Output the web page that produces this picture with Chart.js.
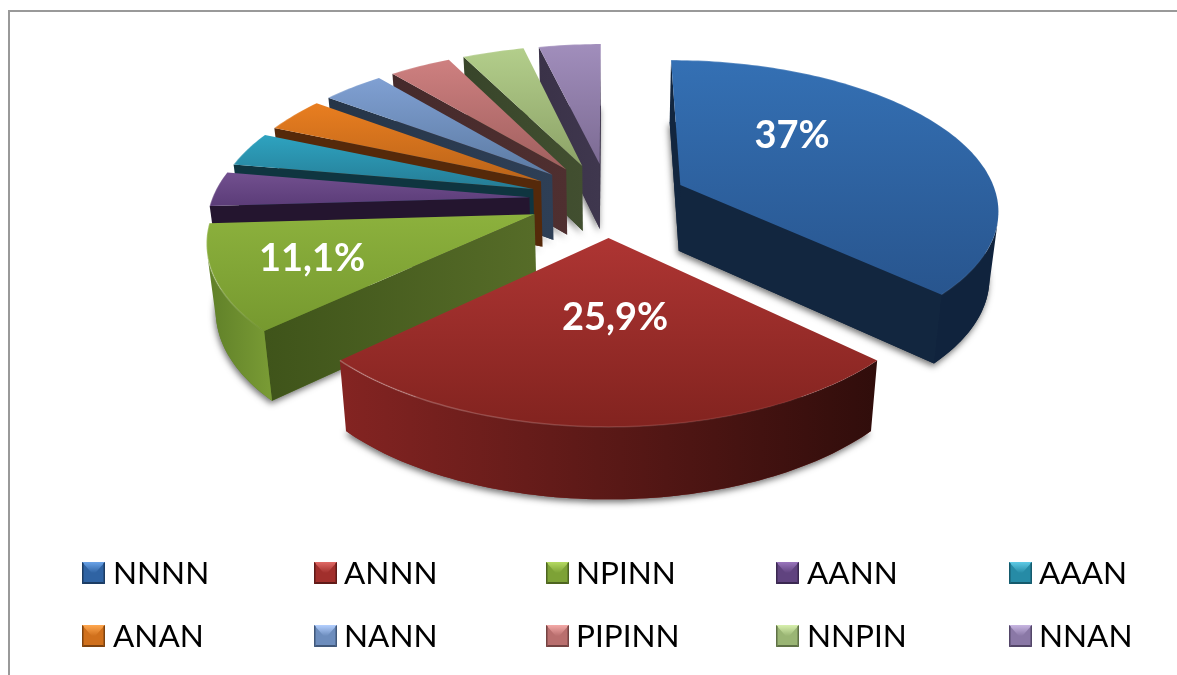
<!DOCTYPE html>
<html>
<head>
<meta charset="utf-8">
<style>html,body{margin:0;padding:0;background:#fff;overflow:hidden}canvas{display:block}</style>
<script src="https://cdn.jsdelivr.net/npm/chart.js@4"></script>
</head>
<body>
<canvas id="c" width="1177" height="675"></canvas>
<script>
const categories = ['NNNN','ANNN','NPINN','AANN','AAAN','ANAN','NANN','PIPINN','NNPIN','NNAN'];
const values = [10,7,3,1,1,1,1,1,1,1];
const explosion = [25,25,25,25,25,25,25,25,25,25];
const valueLabels = ['37%','25,9%','11,1%','','','','','','',''];
const topLight = ['#3470b4','#ae3533','#8cb13d','#72508f','#2ea3c0','#e97e20','#80a0d3','#ce8080','#b3ce8b','#a18ebc'];
const topDark  = ['#28558e','#82231f','#76992f','#5b3c78','#257c95','#bb6419','#5c7ba3','#a05f5e','#8ca267','#7c6b93'];
const wallA = ['#10233d','#842422','#5f7f28','#24152f','#0f3540','#55290a','#2a3a50','#4f2f30','#3e4a2d','#3c344a'];
const wallB = ['#10233d','#300d0b','#7a9c35','#24152f','#0f3540','#55290a','#2a3a50','#4f2f30','#3e4a2d','#3c344a'];
const sideA = ['#12263f','#5a1614','#3f541a','#24152f','#0f3540','#55290a','#263548','#452a2b','#38452a','#3a3248'];
const sideB = ['#12263f','#5a1614','#566c28','#24152f','#0f3540','#55290a','#2e3f56','#4f2f30','#424f30','#3f374e'];
const swatchLight = ['#6aa3e8','#e06a66','#b5da62','#9a76bd','#5fcbe6','#ffa850','#b4d0ff','#f4aaa8','#d8f0ae','#c8b6e2'];
const swatchBase  = ['#2f63a3','#a12f2c','#7da236','#60437f','#268ba6','#d0701c','#6d8dbd','#b96f6e','#9ab574','#8a78a6'];
const swatchDark  = ['#1c3c63','#5f1a18','#4d6420','#3a2850','#155a6c','#7e430f','#41587a','#744342','#5f7146','#534668'];

const view = {cx:608.5, cy:199.5, R:317.5, A:147.8, p:0.15, squeeze:0.977};
const labelAt = [[792,136],[615,318],[312,259]];
const legendCols = [[82,113],[314,344],[546,576],[776,807],[1009,1039]];
const legendRows = [573,636];

function proj(X, D){
  const s = 1/(1 - view.p*D);
  return {x:view.cx + view.R*X*s, y:view.cy + view.A*D*s, s};
}
function drop(P){
  return {x:view.cx + (P.x-view.cx)*view.squeeze, y:P.y + 38 + 28*P.s};
}
function path(ctx, pts){
  ctx.beginPath();
  pts.forEach((q,i)=> i ? ctx.lineTo(q.x,q.y) : ctx.moveTo(q.x,q.y));
  ctx.closePath();
}
function area(pts){
  let a=0;
  for(let i=0;i<pts.length;i++){const u=pts[i],v=pts[(i+1)%pts.length];a+=u.x*v.y-v.x*u.y;}
  return a/2;
}
function hGrad(ctx, pts, c0, c1){
  const xs=pts.map(q=>q.x), g=ctx.createLinearGradient(Math.min(...xs),0,Math.max(...xs)+0.01,0);
  g.addColorStop(0,c0); g.addColorStop(1,c1); return g;
}
function drawSlice(ctx, arc, i){
  const t0=arc.startAngle, t1=arc.endAngle, mid=(t0+t1)/2;
  const o=(arc.options.offset||0)/100, ox=o*Math.cos(mid), oy=o*Math.sin(mid);
  const rim=[], n=Math.max(6,Math.ceil((t1-t0)/0.02));
  for(let k=0;k<=n;k++){
    const t=t0+(t1-t0)*k/n;
    rim.push(proj(ox+Math.cos(t), oy+Math.sin(t)));
  }
  const apex=proj(ox,oy), top=[apex,...rim], bot=top.map(drop);

  // soft cast shadow of the foot of the slice
  ctx.save();
  ctx.shadowColor='rgba(0,0,0,0.55)'; ctx.shadowBlur=6; ctx.shadowOffsetY=3; ctx.shadowOffsetX=-1;
  ctx.fillStyle=wallA[i]; path(ctx,bot); ctx.fill();
  ctx.restore();

  // radial faces
  [[apex,rim[0]],[rim[n],apex]].forEach(([a,b])=>{
    const q=[a,b,drop(b),drop(a)];
    if(area(q)<0){ ctx.fillStyle=hGrad(ctx,q,sideA[i],sideB[i]); path(ctx,q); ctx.fill(); }
  });
  // curved outer face: the runs that face the viewer
  let run=[];
  const flush=()=>{
    if(run.length>1){
      const q=[...run,...run.map(drop).reverse()];
      ctx.fillStyle=hGrad(ctx,q,wallA[i],wallB[i]); path(ctx,q); ctx.fill();
    }
    run=[];
  };
  for(let k=0;k<n;k++){
    const a=rim[k],b=rim[k+1];
    if(area([a,b,drop(b),drop(a)])<0){ if(!run.length) run.push(a); run.push(b); }
    else flush();
  }
  flush();
  // top face
  const ys=top.map(q=>q.y), g=ctx.createLinearGradient(0,Math.min(...ys),0,Math.max(...ys));
  g.addColorStop(0,topLight[i]); g.addColorStop(1,topDark[i]);
  ctx.fillStyle=g; path(ctx,top); ctx.fill();
  // lit bevel on the rim, strongest to the left
  ctx.strokeStyle=hGrad(ctx,rim,'rgba(255,255,255,0.26)','rgba(255,255,255,0.02)'); ctx.lineWidth=1.5;
  ctx.beginPath(); rim.forEach((q,k)=>k?ctx.lineTo(q.x,q.y):ctx.moveTo(q.x,q.y)); ctx.stroke();
}
function swatch(ctx,x,y,i){
  const w=23,h=22,mx=x+w/2,my=y+h/2;
  ctx.fillStyle=swatchBase[i]; ctx.fillRect(x,y,w,h);
  const g=ctx.createLinearGradient(0,y,0,my);
  g.addColorStop(0,swatchLight[i]); g.addColorStop(1,swatchBase[i]);
  ctx.fillStyle=g;
  ctx.beginPath();ctx.moveTo(x,y);ctx.lineTo(x+w,y);ctx.lineTo(mx,my+2);ctx.closePath();ctx.fill();
  ctx.fillStyle=swatchDark[i];
  ctx.beginPath();ctx.moveTo(x,y+h);ctx.lineTo(x+w,y+h);ctx.lineTo(x+w-2,y+h-2);ctx.lineTo(x+2,y+h-2);ctx.closePath();ctx.fill();
  ctx.beginPath();ctx.moveTo(x,y);ctx.lineTo(x+1.5,y+1.5);ctx.lineTo(x+1.5,y+h-1.5);ctx.lineTo(x,y+h);ctx.closePath();ctx.fill();
  ctx.beginPath();ctx.moveTo(x+w,y);ctx.lineTo(x+w-1.5,y+1.5);ctx.lineTo(x+w-1.5,y+h-1.5);ctx.lineTo(x+w,y+h);ctx.closePath();ctx.fill();
}
const pie3d = {
  id:'pie3d',
  beforeDraw(chart){
    const ctx=chart.ctx;
    ctx.save();
    ctx.fillStyle='#fff'; ctx.fillRect(0,0,chart.width,chart.height);
    ctx.fillStyle='#999';
    ctx.fillRect(8,10,chart.width-8,2);
    ctx.fillRect(8,10,2,chart.height-10);
    ctx.restore();
  },
  beforeDatasetsDraw(chart){
    const ctx=chart.ctx, arcs=chart.getDatasetMeta(0).data;
    const depth=a=>Math.sin((a.startAngle+a.endAngle)/2);
    const order=arcs.map((a,i)=>i).sort((p,q)=>depth(arcs[p])-depth(arcs[q]));
    ctx.save();
    order.forEach(i=>drawSlice(ctx,arcs[i],i));
    ctx.fillStyle='#fff'; ctx.font='bold 38px Lato, "Open Sans", sans-serif';
    ctx.textAlign='center'; ctx.textBaseline='middle';
    valueLabels.forEach((s,i)=>{ if(s) ctx.fillText(s,labelAt[i][0],labelAt[i][1]); });
    ctx.font='31.5px Lato, "Open Sans", sans-serif';
    ctx.textAlign='left';
    categories.forEach((s,i)=>{
      const col=legendCols[i%5], y=legendRows[Math.floor(i/5)];
      swatch(ctx,col[0],y-11,i);
      ctx.fillStyle='#000';
      ctx.fillText(s,col[1],y+1);
    });
    ctx.restore();
    return false;
  }
};
new Chart(document.getElementById('c'),{
  type:'pie',
  data:{labels:categories,datasets:[{data:values,offset:explosion,backgroundColor:topLight,borderWidth:0}]},
  options:{responsive:false,animation:false,rotation:0,
    plugins:{legend:{display:false},tooltip:{enabled:false}},
    events:[]},
  plugins:[pie3d]
});
</script>
</body>
</html>
